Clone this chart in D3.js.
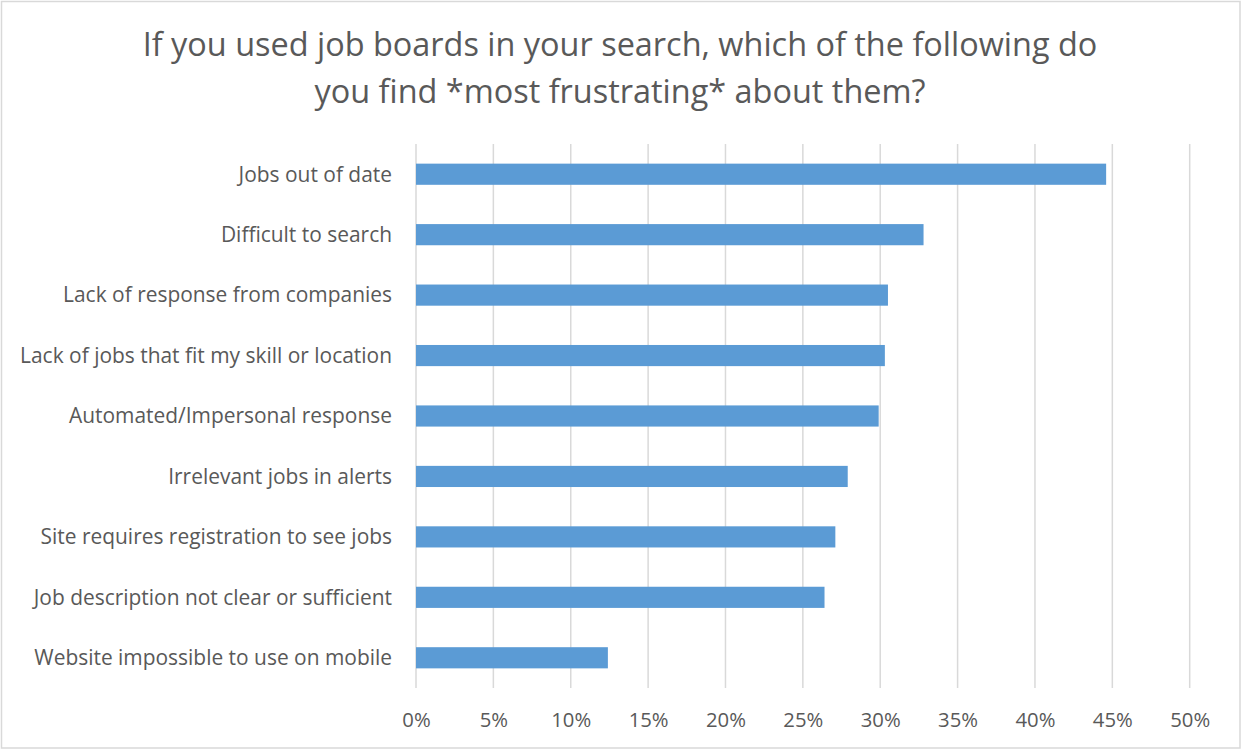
<!DOCTYPE html>
<html>
<head>
<meta charset="utf-8">
<script src="https://cdn.jsdelivr.net/npm/d3@7"></script>
<style>
  html, body { margin: 0; padding: 0; background: #fff; }
  svg { display: block; }
  text { font-family: "Open Sans", "Noto Sans", sans-serif; fill: #595959; }
</style>
</head>
<body>
<svg id="chart" width="1242" height="750"></svg>
<script>
// Survey responses: share of respondents (percent) per frustration
const categories = [
  "Jobs out of date",
  "Difficult to search",
  "Lack of response from companies",
  "Lack of jobs that fit my skill or location",
  "Automated/Impersonal response",
  "Irrelevant jobs in alerts",
  "Site requires registration to see jobs",
  "Job description not clear or sufficient",
  "Website impossible to use on mobile"
];
const values = [44.6, 32.8, 30.5, 30.3, 29.9, 27.9, 27.1, 26.4, 12.4];
const tickValues = [0, 5, 10, 15, 20, 25, 30, 35, 40, 45, 50];
const titleLines = [
  "If you used job boards in your search, which of the following do",
  "you find *most frustrating* about them?"
];

const W = 1242, H = 750;
const plot = { left: 416, right: 1189.7, top: 144, bottom: 688 };

const svg = d3.select("#chart");

svg.append("rect")
  .attr("x", 0).attr("y", 0).attr("width", W).attr("height", H)
  .attr("fill", "#fff");

// outer chart frame
svg.append("rect")
  .attr("x", 1.5).attr("y", 1.5)
  .attr("width", W - 3.5).attr("height", H - 3.5)
  .attr("fill", "none")
  .attr("stroke", "#d9d9d9")
  .attr("stroke-width", 1.5);

const x = d3.scaleLinear().domain([0, 50]).range([plot.left, plot.right]);
const y = d3.scaleBand()
  .domain(categories)
  .range([plot.top, plot.bottom])
  .paddingInner(0.65)
  .paddingOuter(0.325);

// scale a text element's font size so its rendered width hits a target
function fitWidth(sel, target) {
  sel.each(function () {
    const base = parseFloat(this.getAttribute("font-size"));
    const w = this.getComputedTextLength();
    if (w > 0) this.setAttribute("font-size", (base * target / w).toFixed(2));
  });
}

// title
const title = svg.append("g");
const t1 = title.append("text")
  .attr("x", 620).attr("y", 56)
  .attr("text-anchor", "middle")
  .attr("font-size", 28)
  .text(titleLines[0]);
fitWidth(t1, 955);
const titleSize = +t1.attr("font-size");
title.append("text")
  .attr("x", 620).attr("y", 103)
  .attr("text-anchor", "middle")
  .attr("font-size", titleSize)
  .text(titleLines[1]);

// vertical gridlines
svg.append("g")
  .selectAll("line")
  .data(tickValues)
  .join("line")
  .attr("x1", d => x(d)).attr("x2", d => x(d))
  .attr("y1", plot.top).attr("y2", plot.bottom)
  .attr("stroke", "#d9d9d9")
  .attr("stroke-width", 1.5);

// bars
svg.append("g")
  .selectAll("rect")
  .data(categories)
  .join("rect")
  .attr("x", x(0))
  .attr("y", d => y(d))
  .attr("width", (d, i) => x(values[i]) - x(0))
  .attr("height", y.bandwidth())
  .attr("fill", "#5b9bd5");

// x axis labels
const xAxis = svg.append("g")
  .attr("transform", `translate(0,${plot.bottom})`)
  .call(d3.axisBottom(x).tickValues(tickValues).tickFormat(d => d + "%").tickSize(0).tickPadding(0));
xAxis.select(".domain").remove();
xAxis.selectAll("text")
  .attr("y", 39)
  .attr("dy", null)
  .attr("font-size", 20)
  .attr("font-family", null)
  .style("fill", "#595959");
fitWidth(xAxis.selectAll("text").filter(d => d === 50), 40);
const tickSize = +xAxis.selectAll("text").filter(d => d === 50).attr("font-size");
xAxis.selectAll("text").attr("font-size", tickSize);
xAxis.attr("font-size", null).attr("font-family", null);

// category labels
const yAxis = svg.append("g")
  .attr("transform", `translate(392,0)`)
  .call(d3.axisLeft(y).tickSize(0).tickPadding(0));
yAxis.select(".domain").remove();
yAxis.attr("font-size", null).attr("font-family", null);
yAxis.selectAll("text")
  .attr("x", 0)
  .attr("dy", "0.35em")
  .attr("font-size", 20)
  .style("fill", "#595959");
fitWidth(yAxis.selectAll("text").filter(d => d === categories[3]), 372);
const catSize = +yAxis.selectAll("text").filter(d => d === categories[3]).attr("font-size");
yAxis.selectAll("text").attr("font-size", catSize);
</script>
</body>
</html>
